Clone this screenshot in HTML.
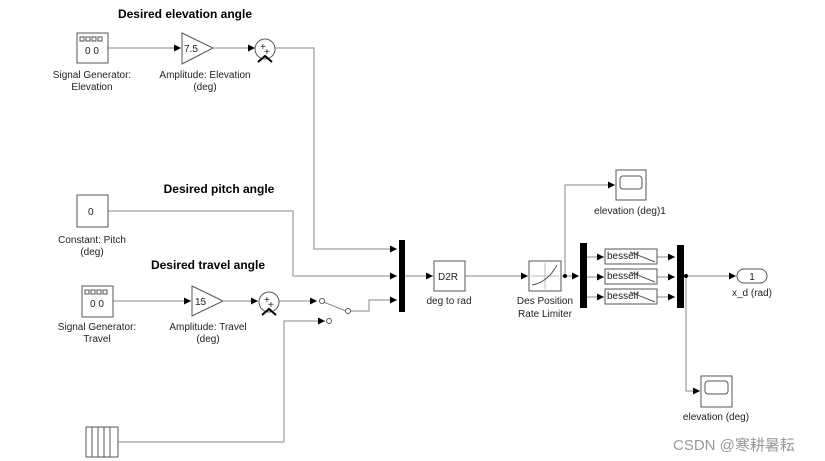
<!DOCTYPE html>
<html><head><meta charset="utf-8"><style>
body{margin:0;background:#fff}
svg{display:block}
text{font-family:"Liberation Sans",sans-serif;font-size:10px;fill:#222}
.b{font-weight:bold;font-size:12px;fill:#000}
</style></head><body>
<svg width="825" height="461" viewBox="0 0 825 461">
<defs><marker id="a" markerWidth="8" markerHeight="8" refX="7" refY="3.5" orient="auto" markerUnits="userSpaceOnUse"><path d="M0,0 L7,3.5 L0,7z" fill="#000"/></marker></defs>
<g fill="none" stroke="#888" stroke-width="1">
<!-- elevation -->
<path d="M108,48 H181" marker-end="url(#a)"/>
<path d="M214,48 H255" marker-end="url(#a)"/>
<path d="M275,48 H314 V249 H397" marker-end="url(#a)"/>
<!-- pitch -->
<path d="M108,211 H293 V276 H397" marker-end="url(#a)"/>
<!-- travel -->
<path d="M113,301 H191" marker-end="url(#a)"/>
<path d="M224,301 H258" marker-end="url(#a)"/>
<path d="M279,301 H317" marker-end="url(#a)"/>
<path d="M321,301 L346,311 M350,311 H369 V300 H397"/>
<path d="M369,300 H397" marker-end="url(#a)"/>
<path d="M118,442 H284 V321 H325" marker-end="url(#a)"/>
<!-- right -->
<path d="M405,276 H433" marker-end="url(#a)"/>
<path d="M465,276 H528" marker-end="url(#a)"/>
<path d="M561,276 H579" marker-end="url(#a)"/>
<path d="M565,276 V185 H615" marker-end="url(#a)"/>
<path d="M587,257 H604" marker-end="url(#a)"/>
<path d="M587,277 H604" marker-end="url(#a)"/>
<path d="M587,297 H604" marker-end="url(#a)"/>
<path d="M657,257 H675" marker-end="url(#a)"/>
<path d="M657,277 H675" marker-end="url(#a)"/>
<path d="M657,297 H675" marker-end="url(#a)"/>
<path d="M684,276 H736" marker-end="url(#a)"/>
<path d="M686,276 V391 H700" marker-end="url(#a)"/>
</g>
<g stroke="#555" fill="#fff" stroke-width="1">
<!-- sig gen elev -->
<rect x="77" y="33" width="31" height="30"/>
<rect x="80" y="37" width="4" height="4"/><rect x="86" y="37" width="4" height="4"/><rect x="92" y="37" width="4" height="4"/><rect x="98" y="37" width="4" height="4"/>
<polygon points="182,33 213,48 182,64"/>
<circle cx="265" cy="49" r="10"/>
<rect x="77" y="195" width="31" height="32"/>
<rect x="82" y="286" width="31" height="31"/>
<rect x="85" y="290" width="4" height="4"/><rect x="91" y="290" width="4" height="4"/><rect x="97" y="290" width="4" height="4"/><rect x="103" y="290" width="4" height="4"/>
<polygon points="192,286 223,301 192,316"/>
<circle cx="269" cy="302" r="10"/>
<circle cx="322" cy="301" r="2.5"/><circle cx="348" cy="311" r="2.5"/><circle cx="329" cy="321" r="2.5"/>
<rect x="86" y="427" width="32" height="30"/>
<path d="M92,427V457M98,427V457M104,427V457M110,427V457" fill="none"/>
<rect x="434" y="261" width="31" height="30"/>
<rect x="529" y="261" width="32" height="30"/>
<path d="M531,276H559M545,263V289" stroke="#bbb" fill="none"/>
<path d="M532,285 Q548,282 557,265" fill="none"/>
<rect x="616" y="170" width="30" height="30"/><rect x="620" y="176" width="22" height="13" rx="3"/>
<rect x="701" y="376" width="31" height="31"/><rect x="705" y="381" width="23" height="13" rx="3"/>
<rect x="605" y="249" width="52" height="15"/><path d="M630,252 L655,262" fill="none"/>
<rect x="605" y="269" width="52" height="15"/><path d="M630,272 L655,282" fill="none"/>
<rect x="605" y="289" width="52" height="15"/><path d="M630,292 L655,302" fill="none"/>
<rect x="737" y="269" width="30" height="14" rx="7"/>
</g>
<g stroke="#000" stroke-width="2" fill="none">
<path d="M258,62 L265,56 L272,62"/><path d="M262,315 L269,309 L276,315"/>
</g>
<rect x="399" y="240" width="6" height="72" fill="#000"/>
<rect x="580" y="243" width="7" height="65" fill="#000"/>
<rect x="677" y="245" width="7" height="63" fill="#000"/>
<circle cx="565" cy="276" r="2" fill="#000"/><circle cx="686" cy="276" r="2" fill="#000"/>
<text x="85" y="54" font-size="8">0 0</text>
<text x="90" y="307" font-size="8">0 0</text>
<text x="260" y="50" font-size="8">+</text><text x="264" y="55" font-size="8">+</text>
<text x="264" y="303" font-size="8">+</text><text x="268" y="308" font-size="8">+</text>
<text x="184" y="52">7.5</text><text x="195" y="305">15</text>
<text x="88" y="215">0</text>
<text x="438" y="280">D2R</text>
<text x="607" y="259" font-size="9">besself</text>
<text x="607" y="279" font-size="9">besself</text>
<text x="607" y="299" font-size="9">besself</text>
<text x="752" y="280" text-anchor="middle">1</text>
<text class="b" x="185" y="18" text-anchor="middle">Desired elevation angle</text>
<text class="b" x="219" y="193" text-anchor="middle">Desired pitch angle</text>
<text class="b" x="208" y="269" text-anchor="middle">Desired travel angle</text>
<g text-anchor="middle">
<text x="92" y="78">Signal Generator:</text><text x="92" y="90">Elevation</text>
<text x="205" y="78">Amplitude: Elevation</text><text x="205" y="90">(deg)</text>
<text x="92" y="243">Constant: Pitch</text><text x="92" y="255">(deg)</text>
<text x="97" y="330">Signal Generator:</text><text x="97" y="342">Travel</text>
<text x="208" y="330">Amplitude: Travel</text><text x="208" y="342">(deg)</text>
<text x="449" y="304">deg to rad</text>
<text x="545" y="304">Des Position</text><text x="545" y="317">Rate Limiter</text>
<text x="630" y="214">elevation (deg)1</text>
<text x="752" y="296">x_d (rad)</text>
<text x="716" y="420">elevation (deg)</text>
</g>
<text x="673" y="450" style="font-size:15px;fill:#999;font-family:'Liberation Sans','Noto Sans CJK SC',sans-serif">CSDN @寒耕暑耘</text>
</svg>
</body></html>
